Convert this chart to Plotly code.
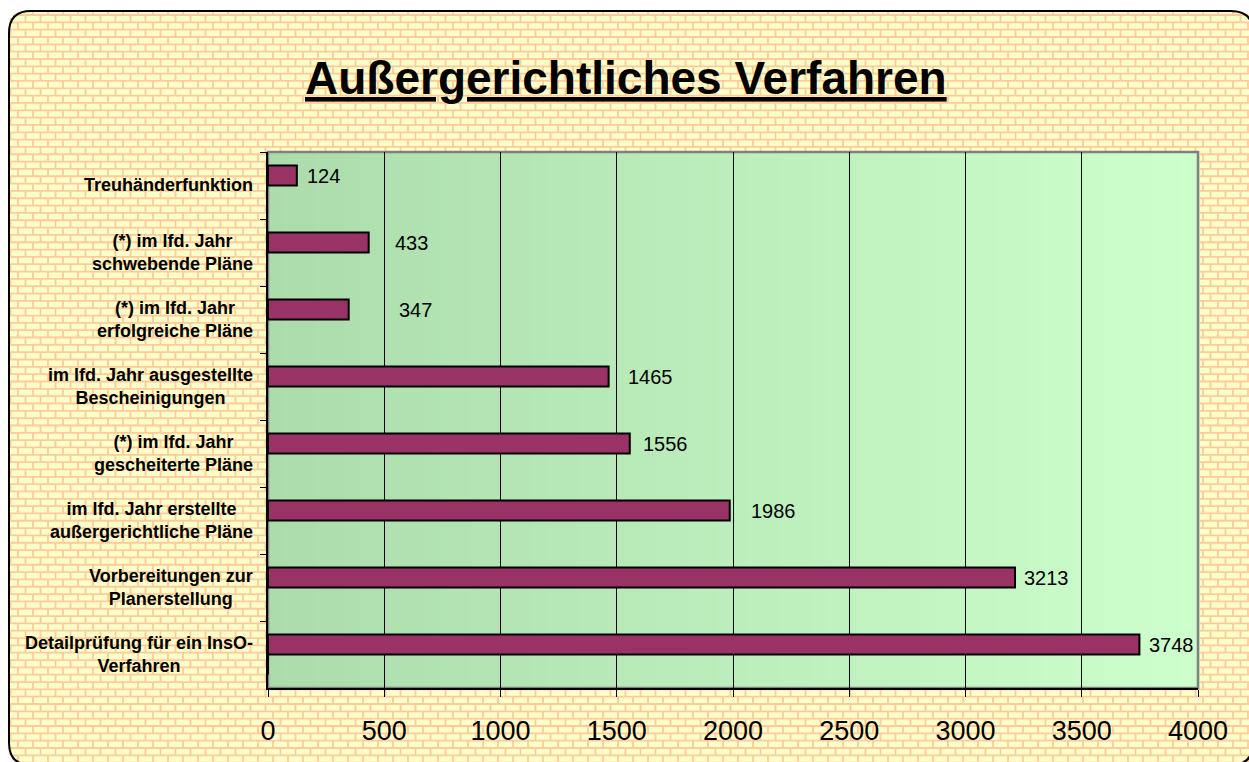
import plotly.graph_objects as go
import numpy as np

# ---------------- data ----------------
categories = [
    "Treuhänderfunktion",
    "(*) im lfd. Jahr<br>schwebende Pläne",
    "(*) im lfd. Jahr<br>erfolgreiche Pläne",
    "im lfd. Jahr ausgestellte<br>Bescheinigungen",
    "(*) im lfd. Jahr<br>gescheiterte Pläne",
    "im lfd. Jahr erstellte<br>außergerichtliche Pläne",
    "Vorbereitungen zur<br>Planerstellung",
    "Detailprüfung für ein InsO-<br>Verfahren",
]
values = [124, 433, 347, 1465, 1556, 1986, 3213, 3748]
second_series = [None, None, None, None, None, None, None, 0]
x_ticks = [0, 500, 1000, 1500, 2000, 2500, 3000, 3500, 4000]
title_text = "Außergerichtliches Verfahren"

# ---------------- style ----------------
W, H = 1249, 762
FONT = "Arial, Liberation Sans, sans-serif"
label_gap_px = [8, 24, 48, 17, 11, 19, 7, 8]   # label offsets right of bar end
BAR_COLOR = "#993366"
BRICK = "#FFFFCC"
MORTAR = "#FFCC99"

def px(x):
    return x / W

def py(y):
    return 1 - y / H

plot_l, plot_r, plot_t, plot_b = 268, 1198, 152, 688

fig = go.Figure()
fig.add_trace(go.Bar(
    y=categories, x=values, orientation="h",
    marker=dict(color=BAR_COLOR, line=dict(color="black", width=2)),
    hoverinfo="x+y", showlegend=False,
))
fig.add_trace(go.Bar(
    y=categories, x=second_series, orientation="h",
    marker=dict(color=BAR_COLOR, line=dict(color="black", width=2)),
    showlegend=False,
))

shapes = []
# frame with rounded corners
x0, y0, x1, y1, r = 9, 11, 1253, 765, 22
frame_path = (
    f"M{px(x0+r)},{py(y0)} H{px(x1-r)} Q{px(x1)},{py(y0)} {px(x1)},{py(y0+r)} "
    f"V{py(y1-r)} Q{px(x1)},{py(y1)} {px(x1-r)},{py(y1)} H{px(x0+r)} "
    f"Q{px(x0)},{py(y1)} {px(x0)},{py(y1-r)} V{py(y0+r)} Q{px(x0)},{py(y0)} {px(x0+r)},{py(y0)} Z"
)
shapes.append(dict(type="path", xref="paper", yref="paper", path=frame_path,
                   fillcolor=BRICK, line=dict(width=0), layer="below"))

# brick mortar
rh, bw = 7.33, 15.0
segs = []
yy = 12.0 + 3.0
k = 0
while yy < H + 2:
    segs.append(f"M{px(x0+1):.5f},{py(yy):.5f}H{px(W):.5f}")
    off = 3.0 + (7.5 if k % 2 else 0.0)
    xx = off
    y_top = yy - rh
    while xx < W:
        if xx > x0 + 1:
            segs.append(f"M{px(xx):.5f},{py(max(y_top, y0+1)):.5f}V{py(min(yy, H)):.5f}")
        xx += bw
    yy += rh
    k += 1
shapes.append(dict(type="path", xref="paper", yref="paper", path="".join(segs),
                   line=dict(color=MORTAR, width=1.8), layer="below"))

# corner masks (outside rounded corners)
def corner(cx, cy, ax, ay, bx, by):
    return dict(type="path", xref="paper", yref="paper",
                path=f"M{px(cx)},{py(cy)} L{px(ax)},{py(ay)} Q{px(cx)},{py(cy)} {px(bx)},{py(by)} Z",
                fillcolor="white", line=dict(width=0), layer="below")

shapes.append(corner(x0 - 2, y0 - 2, x0 + r, y0 - 2, x0 - 2, y0 + r))
shapes.append(corner(x1 + 2, y0 - 2, x1 - r, y0 - 2, x1 + 2, y0 + r))
shapes.append(corner(x0 - 2, y1 + 2, x0 - 2, y1 - r, x0 + r, y1 + 2))
shapes.append(dict(type="rect", xref="paper", yref="paper", x0=0, x1=px(x0 - 1), y0=0, y1=1,
                   fillcolor="white", line=dict(width=0), layer="below"))
shapes.append(dict(type="rect", xref="paper", yref="paper", x0=0, x1=1, y0=py(y0 - 1), y1=1,
                   fillcolor="white", line=dict(width=0), layer="below"))
# frame outline
shapes.append(dict(type="path", xref="paper", yref="paper", path=frame_path,
                   line=dict(color="black", width=2), layer="below"))

# plot area gradient
c0 = np.array([172, 220, 172])
c1 = np.array([204, 255, 204])
N = 60
for i in range(N):
    t = i / (N - 1)
    c = (c0 + (c1 - c0) * t).round().astype(int)
    shapes.append(dict(type="rect", xref="x domain", yref="y domain",
                       x0=i / N, x1=(i + 1) / N + 0.002, y0=0, y1=1,
                       fillcolor=f"rgb({c[0]},{c[1]},{c[2]})", line=dict(width=0),
                       layer="below"))
shapes.append(dict(type="rect", xref="x domain", yref="y domain", x0=0, x1=1, y0=0, y1=1,
                   line=dict(color="#808080", width=2.5), layer="below"))

annotations = []
annotations.append(dict(text=f"<b><u>{title_text}</u></b>", xref="paper", yref="paper",
                        x=px(626), y=py(78), xanchor="center", yanchor="middle",
                        showarrow=False, font=dict(family=FONT, size=46, color="black")))
for cat in categories:
    annotations.append(dict(text=f"<b>{cat}</b>", xref="paper", yref="y",
                            x=px(255), y=cat, xanchor="right", yanchor="middle",
                            align="center", showarrow=False,
                            font=dict(family=FONT, size=18, color="black")))
for cat, v, g in zip(categories, values, label_gap_px):
    annotations.append(dict(text=str(v), xref="x", yref="y", x=v, y=cat,
                            xanchor="left", yanchor="middle", xshift=g, yshift=9.5,
                            showarrow=False, font=dict(family=FONT, size=20, color="black")))

fig.update_layout(
    width=W, height=H, autosize=False,
    margin=dict(l=0, r=0, t=0, b=0, pad=0, autoexpand=False),
    paper_bgcolor="white",
    plot_bgcolor="rgba(0,0,0,0)",
    barmode="group", bargap=0.40, bargroupgap=0,
    shapes=shapes, annotations=annotations,
    font=dict(family=FONT, color="black"),
    xaxis=dict(domain=[px(plot_l), px(plot_r)], range=[0, 4000], tickvals=x_ticks,
               showgrid=True, gridcolor="black", gridwidth=1, zeroline=False,
               showline=True, linecolor="black", linewidth=2, automargin=False,
               ticks="outside", ticklen=7, tickcolor="black", tickwidth=1,
               ticklabelstandoff=11,
               tickfont=dict(family=FONT, size=27, color="black"), fixedrange=True),
    yaxis=dict(domain=[py(plot_b), py(plot_t)], autorange="reversed",
               type="category", showticklabels=False, showgrid=False, automargin=False,
               showline=True, linecolor="black", linewidth=2,
               ticks="outside", ticklen=6, tickcolor="black", tickson="boundaries",
               fixedrange=True),
)

fig.write_html("out.html",
               config={"responsive": False, "displayModeBar": False},
               post_script="document.body.style.margin='0';document.body.style.overflow='hidden';")
